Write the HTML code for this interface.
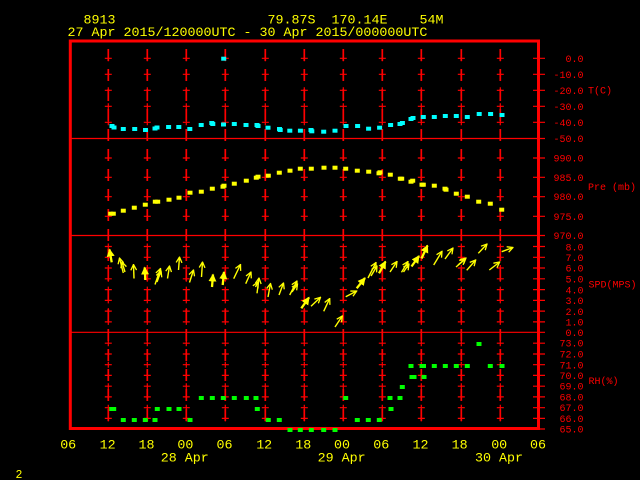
<!DOCTYPE html>
<html><head><meta charset="utf-8"><style>
html,body{margin:0;padding:0;background:#000;width:640px;height:480px;overflow:hidden}
svg{display:block}
text{font-family:"Liberation Mono",monospace}
</style></head><body>
<svg width="640" height="480" viewBox="0 0 640 480" xmlns="http://www.w3.org/2000/svg" xmlns:xlink="http://www.w3.org/1999/xlink">
<defs>
<rect id="sq" x="-2.5" y="-2" width="5" height="4"/>
<g id="gl" stroke="#f00" fill="none">
<line x1="0" y1="49" x2="0" y2="428" stroke-width="1.7" stroke-dasharray="12 8"/>
<path stroke-width="1.2" d="M-3.5,58.3h7M0,55.3v6M-3.5,74.3h7M0,71.3v6M-3.5,90.3h7M0,87.3v6M-3.5,106.3h7M0,103.3v6M-3.5,122.3h7M0,119.3v6M-3.5,158h7M0,155v6M-3.5,177.3h7M0,174.3v6M-3.5,196.7h7M0,193.7v6M-3.5,216.3h7M0,213.3v6M-3.5,246.5h7M0,243.5v6M-3.5,257.3h7M0,254.3v6M-3.5,268h7M0,265v6M-3.5,278.8h7M0,275.8v6M-3.5,289.6h7M0,286.6v6M-3.5,300.4h7M0,297.4v6M-3.5,311.1h7M0,308.1v6M-3.5,321.9h7M0,318.9v6M-3.5,343.2h7M0,340.2v6M-3.5,354h7M0,351v6M-3.5,364.7h7M0,361.7v6M-3.5,375.4h7M0,372.4v6M-3.5,386.2h7M0,383.2v6M-3.5,396.9h7M0,393.9v6M-3.5,407.7h7M0,404.7v6M-3.5,418.4h7M0,415.4v6"/>
</g>
<marker id="a" viewBox="0 0 7 7" refX="6.3" refY="3.5" markerWidth="7" markerHeight="7" orient="auto" markerUnits="userSpaceOnUse"><path d="M0.6,0.6 L6.3,3.5 L0.6,6.4" fill="none" stroke="#ff0" stroke-width="1.3"/></marker>
<marker id="b" viewBox="0 0 8 8" refX="7" refY="4" markerWidth="8" markerHeight="8" orient="auto" markerUnits="userSpaceOnUse"><path d="M0,0 L8,4 L0,8 z" fill="#ff0"/></marker>
</defs>

<!-- titles -->
<g fill="#ff0" font-size="13.33">
<text x="83.5" y="23.5">8913</text>
<text x="267.5" y="23.5">79.87S</text>
<text x="331.5" y="23.5">170.14E</text>
<text x="419.5" y="23.5">54M</text>
<text x="67.5" y="36">27 Apr 2015/120000UTC - 30 Apr 2015/000000UTC</text>
</g>

<!-- grid lines -->
<use xlink:href="#gl" x="108.3"/>
<use xlink:href="#gl" x="147.3"/>
<use xlink:href="#gl" x="186.3"/>
<use xlink:href="#gl" x="225.3"/>
<use xlink:href="#gl" x="265.3"/>
<use xlink:href="#gl" x="304.3"/>
<use xlink:href="#gl" x="343.3"/>
<use xlink:href="#gl" x="382.3"/>
<use xlink:href="#gl" x="421.3"/>
<use xlink:href="#gl" x="461.3"/>
<use xlink:href="#gl" x="500.3"/>

<!-- separators & right ticks -->
<g stroke="#f00" fill="none" stroke-width="1.2">
<path d="M70,138.5H545M70,235.5H545M70,332.3H545"/>
<path d="M533,58.3h12M533,74.3h12M533,90.3h12M533,106.3h12M533,122.3h12M533,158h12M533,177.3h12M533,196.7h12M533,216.3h12M533,246.5h12M533,257.3h12M533,268h12M533,278.8h12M533,289.6h12M533,300.4h12M533,311.1h12M533,321.9h12M533,343.2h12M533,354h12M533,364.7h12M533,375.4h12M533,386.2h12M533,396.9h12M533,407.7h12M533,418.4h12M533,429h12"/>
</g>

<!-- frame -->
<rect x="70.3" y="41" width="468.2" height="387.5" fill="none" stroke="#f00" stroke-width="3"/>

<!-- right labels -->
<g fill="#f00" font-size="10" text-anchor="end">
<text x="583.5" y="61.8">0.0</text>
<text x="583.5" y="77.8">-10.0</text>
<text x="583.5" y="93.8">-20.0</text>
<text x="583.5" y="109.8">-30.0</text>
<text x="583.5" y="125.8">-40.0</text>
<text x="583.5" y="141.8">-50.0</text>
<text x="583.5" y="161.6">990.0</text>
<text x="583.5" y="180.8">985.0</text>
<text x="583.5" y="200.2">980.0</text>
<text x="583.5" y="219.8">975.0</text>
<text x="583.5" y="239">970.0</text>
<text x="583.5" y="250.3">8.0</text>
<text x="583.5" y="261">7.0</text>
<text x="583.5" y="271.7">6.0</text>
<text x="583.5" y="282.4">5.0</text>
<text x="583.5" y="293.3">4.0</text>
<text x="583.5" y="304">3.0</text>
<text x="583.5" y="315">2.0</text>
<text x="583.5" y="325.6">1.0</text>
<text x="583.5" y="335.8">0.0</text>
<text x="583.5" y="346.7">73.0</text>
<text x="583.5" y="357.6">72.0</text>
<text x="583.5" y="368.3">71.0</text>
<text x="583.5" y="379">70.0</text>
<text x="583.5" y="389.7">69.0</text>
<text x="583.5" y="400.4">68.0</text>
<text x="583.5" y="411.2">67.0</text>
<text x="583.5" y="421.8">66.0</text>
<text x="583.5" y="432.5">65.0</text>
</g>
<g fill="#f00" font-size="10">
<text x="588" y="93.6">T(C)</text>
<text x="588" y="190">Pre (mb)</text>
<text x="588.5" y="287.6">SPD(MPS)</text>
<text x="588.5" y="384">RH(%)</text>
</g>

<!-- x axis labels -->
<g fill="#ff0" font-size="13.33" text-anchor="middle">
<text x="68.2" y="448.5">06</text>
<text x="107.6" y="448.5">12</text>
<text x="146.5" y="448.5">18</text>
<text x="185.4" y="448.5">00</text>
<text x="224.5" y="448.5">06</text>
<text x="264.2" y="448.5">12</text>
<text x="303.3" y="448.5">18</text>
<text x="342" y="448.5">00</text>
<text x="381.3" y="448.5">06</text>
<text x="420.5" y="448.5">12</text>
<text x="459.6" y="448.5">18</text>
<text x="499.2" y="448.5">00</text>
<text x="538" y="448.5">06</text>
</g>
<g fill="#ff0" font-size="13.33">
<text x="160.8" y="461.5">28 Apr</text>
<text x="317.6" y="461.5">29 Apr</text>
<text x="475" y="461.5">30 Apr</text>
</g>
<text x="15.5" y="478" fill="#ff0" font-size="11.5">2</text>

<!-- temperature -->
<g fill="#0ff">
<use xlink:href="#sq" x="223.7" y="58.7"/>
<use xlink:href="#sq" x="112" y="126"/>
<use xlink:href="#sq" x="114" y="127.5"/>
<use xlink:href="#sq" x="123.3" y="129"/>
<use xlink:href="#sq" x="134.7" y="129"/>
<use xlink:href="#sq" x="145.5" y="130"/>
<use xlink:href="#sq" x="155" y="128.5"/>
<use xlink:href="#sq" x="157" y="127.5"/>
<use xlink:href="#sq" x="168.6" y="127"/>
<use xlink:href="#sq" x="178.8" y="127"/>
<use xlink:href="#sq" x="189.8" y="129"/>
<use xlink:href="#sq" x="201.2" y="125"/>
<use xlink:href="#sq" x="211.8" y="123"/>
<use xlink:href="#sq" x="212.8" y="124"/>
<use xlink:href="#sq" x="223.5" y="124.5"/>
<use xlink:href="#sq" x="234.3" y="124"/>
<use xlink:href="#sq" x="246" y="125"/>
<use xlink:href="#sq" x="257" y="125"/>
<use xlink:href="#sq" x="258" y="126"/>
<use xlink:href="#sq" x="268" y="127.7"/>
<use xlink:href="#sq" x="279.5" y="129"/>
<use xlink:href="#sq" x="280.2" y="130"/>
<use xlink:href="#sq" x="289.8" y="130.7"/>
<use xlink:href="#sq" x="300.4" y="130.7"/>
<use xlink:href="#sq" x="311" y="130"/>
<use xlink:href="#sq" x="311.8" y="131.3"/>
<use xlink:href="#sq" x="323.7" y="131.7"/>
<use xlink:href="#sq" x="335" y="130.7"/>
<use xlink:href="#sq" x="346" y="126"/>
<use xlink:href="#sq" x="357.6" y="126"/>
<use xlink:href="#sq" x="368.6" y="128.7"/>
<use xlink:href="#sq" x="379.6" y="127.7"/>
<use xlink:href="#sq" x="390.6" y="125"/>
<use xlink:href="#sq" x="400" y="124"/>
<use xlink:href="#sq" x="402.4" y="123"/>
<use xlink:href="#sq" x="411" y="119"/>
<use xlink:href="#sq" x="413" y="118"/>
<use xlink:href="#sq" x="423.3" y="117"/>
<use xlink:href="#sq" x="434.3" y="117"/>
<use xlink:href="#sq" x="445.3" y="116"/>
<use xlink:href="#sq" x="456.3" y="116"/>
<use xlink:href="#sq" x="467.3" y="117"/>
<use xlink:href="#sq" x="479.2" y="114"/>
<use xlink:href="#sq" x="490.6" y="114"/>
<use xlink:href="#sq" x="502" y="115"/>
</g>

<!-- pressure -->
<g fill="#ff0">
<use xlink:href="#sq" x="110.7" y="213.7"/>
<use xlink:href="#sq" x="113.3" y="213.7"/>
<use xlink:href="#sq" x="123.3" y="210.7"/>
<use xlink:href="#sq" x="134.3" y="207.7"/>
<use xlink:href="#sq" x="145.3" y="204.7"/>
<use xlink:href="#sq" x="155.3" y="201.7"/>
<use xlink:href="#sq" x="157.7" y="201.7"/>
<use xlink:href="#sq" x="169" y="199.7"/>
<use xlink:href="#sq" x="179" y="197.7"/>
<use xlink:href="#sq" x="190" y="192.7"/>
<use xlink:href="#sq" x="201.3" y="191.7"/>
<use xlink:href="#sq" x="212.3" y="188.7"/>
<use xlink:href="#sq" x="223" y="186.7"/>
<use xlink:href="#sq" x="224" y="185.7"/>
<use xlink:href="#sq" x="234.3" y="183.7"/>
<use xlink:href="#sq" x="246.3" y="180.7"/>
<use xlink:href="#sq" x="256.3" y="177.7"/>
<use xlink:href="#sq" x="258" y="176.7"/>
<use xlink:href="#sq" x="268.3" y="175.7"/>
<use xlink:href="#sq" x="279.3" y="172.7"/>
<use xlink:href="#sq" x="290" y="170.7"/>
<use xlink:href="#sq" x="300.3" y="168.7"/>
<use xlink:href="#sq" x="311.3" y="168.7"/>
<use xlink:href="#sq" x="324" y="167.7"/>
<use xlink:href="#sq" x="335" y="167.7"/>
<use xlink:href="#sq" x="345.7" y="168.7"/>
<use xlink:href="#sq" x="357.3" y="170.7"/>
<use xlink:href="#sq" x="368.7" y="171.7"/>
<use xlink:href="#sq" x="379" y="173.3"/>
<use xlink:href="#sq" x="380" y="172.3"/>
<use xlink:href="#sq" x="390.3" y="174.7"/>
<use xlink:href="#sq" x="400.3" y="178.7"/>
<use xlink:href="#sq" x="401.7" y="178.7"/>
<use xlink:href="#sq" x="411" y="181.7"/>
<use xlink:href="#sq" x="412.7" y="180.7"/>
<use xlink:href="#sq" x="422" y="184.7"/>
<use xlink:href="#sq" x="423.3" y="184.7"/>
<use xlink:href="#sq" x="434.3" y="185.7"/>
<use xlink:href="#sq" x="445" y="188.7"/>
<use xlink:href="#sq" x="446" y="189.7"/>
<use xlink:href="#sq" x="456.3" y="193.7"/>
<use xlink:href="#sq" x="467.3" y="196.7"/>
<use xlink:href="#sq" x="478.7" y="201.7"/>
<use xlink:href="#sq" x="490.3" y="203.7"/>
<use xlink:href="#sq" x="501.7" y="209.7"/>
</g>

<!-- RH -->
<g fill="#0f0">
<use xlink:href="#sq" x="111.7" y="409"/>
<use xlink:href="#sq" x="113.7" y="409"/>
<use xlink:href="#sq" x="123.3" y="420"/>
<use xlink:href="#sq" x="134.3" y="420"/>
<use xlink:href="#sq" x="145.3" y="420"/>
<use xlink:href="#sq" x="155" y="420"/>
<use xlink:href="#sq" x="157.3" y="409"/>
<use xlink:href="#sq" x="169" y="409"/>
<use xlink:href="#sq" x="179" y="409"/>
<use xlink:href="#sq" x="190" y="420"/>
<use xlink:href="#sq" x="201.3" y="398"/>
<use xlink:href="#sq" x="212.3" y="398"/>
<use xlink:href="#sq" x="223.3" y="398"/>
<use xlink:href="#sq" x="234.3" y="398"/>
<use xlink:href="#sq" x="246.3" y="398"/>
<use xlink:href="#sq" x="256" y="398"/>
<use xlink:href="#sq" x="257.3" y="409"/>
<use xlink:href="#sq" x="268.3" y="420"/>
<use xlink:href="#sq" x="279.3" y="420"/>
<use xlink:href="#sq" x="290" y="430"/>
<use xlink:href="#sq" x="300.3" y="430"/>
<use xlink:href="#sq" x="311.3" y="430"/>
<use xlink:href="#sq" x="323.7" y="430"/>
<use xlink:href="#sq" x="335" y="430"/>
<use xlink:href="#sq" x="345.7" y="398"/>
<use xlink:href="#sq" x="357.3" y="420"/>
<use xlink:href="#sq" x="368.3" y="420"/>
<use xlink:href="#sq" x="379.3" y="420"/>
<use xlink:href="#sq" x="390" y="398"/>
<use xlink:href="#sq" x="391" y="409"/>
<use xlink:href="#sq" x="400" y="398"/>
<use xlink:href="#sq" x="402.3" y="387"/>
<use xlink:href="#sq" x="411" y="366"/>
<use xlink:href="#sq" x="412" y="377"/>
<use xlink:href="#sq" x="414" y="377"/>
<use xlink:href="#sq" x="422" y="366"/>
<use xlink:href="#sq" x="423.5" y="366"/>
<use xlink:href="#sq" x="424" y="377"/>
<use xlink:href="#sq" x="434.3" y="366"/>
<use xlink:href="#sq" x="445.3" y="366"/>
<use xlink:href="#sq" x="456.3" y="366"/>
<use xlink:href="#sq" x="467.3" y="366"/>
<use xlink:href="#sq" x="479" y="344"/>
<use xlink:href="#sq" x="490.3" y="366"/>
<use xlink:href="#sq" x="502" y="366"/>
</g>

<!-- wind arrows -->
<g stroke="#ff0" fill="none" stroke-width="1.4" marker-end="url(#a)">
<line x1="123.3" y1="273" x2="119.5" y2="258"/>
<line x1="125" y1="272" x2="122" y2="262"/>
<line x1="134" y1="278.5" x2="133.5" y2="264.5"/>
<line x1="155" y1="284.5" x2="160.5" y2="268.5"/>
<line x1="157" y1="282" x2="161" y2="271"/>
<line x1="167.5" y1="278.5" x2="169.5" y2="266"/>
<line x1="178.5" y1="270" x2="179.5" y2="257"/>
<line x1="189.5" y1="282.5" x2="193.5" y2="270"/>
<line x1="201.5" y1="277" x2="202.5" y2="262"/>
<line x1="233.7" y1="278.7" x2="240.5" y2="264.5"/>
<line x1="245.7" y1="283.7" x2="251" y2="272"/>
<line x1="257" y1="293.3" x2="259" y2="278"/>
<line x1="255.5" y1="287" x2="258" y2="282"/>
<line x1="268" y1="297" x2="270.5" y2="283.5"/>
<line x1="279" y1="295" x2="283.5" y2="283"/>
<line x1="289.7" y1="295" x2="297" y2="281"/>
<line x1="292" y1="292" x2="297.5" y2="284"/>
<line x1="311" y1="306.3" x2="320.5" y2="297.3"/>
<line x1="323.7" y1="311.3" x2="329.7" y2="298.5"/>
<line x1="335" y1="327" x2="342.3" y2="316"/>
<line x1="345.7" y1="296.7" x2="356.7" y2="291"/>
<line x1="368" y1="278" x2="376" y2="262.5"/>
<line x1="371" y1="276" x2="377" y2="266"/>
<line x1="390" y1="272" x2="397" y2="261.5"/>
<line x1="401.5" y1="272.3" x2="408" y2="261.5"/>
<line x1="403.5" y1="272" x2="409" y2="264"/>
<line x1="433.7" y1="265" x2="442" y2="251.3"/>
<line x1="445" y1="259" x2="453" y2="248"/>
<line x1="456" y1="267" x2="465.5" y2="259"/>
<line x1="458" y1="265" x2="466" y2="258"/>
<line x1="466.7" y1="270.3" x2="475.7" y2="260"/>
<line x1="478.3" y1="253.3" x2="487" y2="244"/>
<line x1="489.3" y1="270" x2="499.7" y2="262"/>
<line x1="501.7" y1="251.7" x2="513" y2="247.5"/>
</g>
<g stroke="#ff0" fill="none" stroke-width="2.3" marker-end="url(#b)">
<line x1="111.7" y1="262.3" x2="109.5" y2="249.5"/>
<line x1="145.3" y1="280" x2="144.7" y2="267.5"/>
<line x1="212" y1="287" x2="213" y2="274.5"/>
<line x1="222.7" y1="285" x2="224" y2="272"/>
<line x1="301.3" y1="308.3" x2="309" y2="297.5"/>
<line x1="356.7" y1="288.3" x2="365" y2="278"/>
<line x1="379" y1="273.3" x2="385.5" y2="261.5"/>
<line x1="411.5" y1="266.5" x2="419" y2="256"/>
<line x1="421.5" y1="258.5" x2="427.5" y2="245.5"/>
</g>
</svg>
</body></html>
